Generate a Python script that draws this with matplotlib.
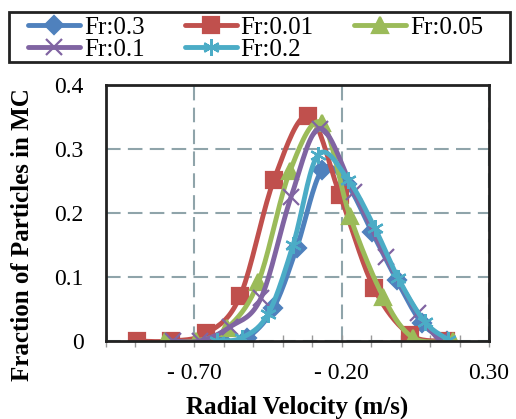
import numpy as np
import matplotlib
matplotlib.use('Agg')
import matplotlib.pyplot as plt
from matplotlib.patches import Rectangle
from matplotlib.ticker import MultipleLocator, FixedLocator

plt.rcParams['font.family'] = ['Liberation Serif', 'DejaVu Serif']

# data (radial velocity m/s, fraction in MC)
labels = ['Fr:0.3', 'Fr:0.01', 'Fr:0.05', 'Fr:0.1', 'Fr:0.2']

x_03 = [-0.606, -0.522, -0.432, -0.353, -0.267, -0.182, -0.097, -0.013, 0.072, 0.157]
y_03 = [0.0, 0.005, 0.051, 0.145, 0.267, 0.245, 0.170, 0.095, 0.028, 0.0]

x_001 = [-0.895, -0.779, -0.659, -0.545, -0.430, -0.313, -0.206, -0.091, 0.031, 0.154]
y_001 = [0.0, 0.0, 0.012, 0.070, 0.252, 0.352, 0.228, 0.083, 0.010, 0.0]

x_005 = [-0.800, -0.695, -0.589, -0.483, -0.376, -0.268, -0.172, -0.059, 0.043, 0.177]
y_005 = [0.0, 0.0, 0.020, 0.092, 0.265, 0.341, 0.195, 0.069, 0.005, 0.0]

x_01 = [-0.773, -0.681, -0.579, -0.474, -0.372, -0.274, -0.158, -0.050, 0.059, 0.133]
y_01 = [0.0, 0.0, 0.022, 0.067, 0.225, 0.332, 0.233, 0.131, 0.043, 0.0]

x_02 = [-0.623, -0.539, -0.450, -0.365, -0.280, -0.178, -0.087, -0.008, 0.082, 0.162]
y_02 = [0.0, 0.005, 0.042, 0.150, 0.291, 0.252, 0.176, 0.098, 0.030, 0.002]

colors = ['#4F81BD', '#C0504D', '#9BBB59', '#8064A2', '#4BACC6']
markers = ['D', 's', '^', 'x', (6, 2, 0)]
msizes = [9, 12, 12, 11, 12]


def smooth(x, y, n=20):
    # excel-like smoothed line (catmull-rom through the points)
    p = np.column_stack([x, y])
    p = np.vstack([p[0], p, p[-1]])
    t = np.linspace(0, 1, n)[:, None]
    out = []
    for i in range(1, len(p) - 2):
        p0, p1, p2, p3 = p[i - 1], p[i], p[i + 1], p[i + 2]
        c1 = p1 + (p2 - p0) / 6
        c2 = p2 - (p3 - p1) / 6
        seg = ((1 - t) ** 3) * p1 + 3 * ((1 - t) ** 2) * t * c1 + 3 * (1 - t) * t ** 2 * c2 + t ** 3 * p2
        out.append(seg)
    out = np.vstack(out)
    return out[:, 0], out[:, 1]


W, H = 516, 419
fig = plt.figure(figsize=(W / 100, H / 100), dpi=100)
ax = fig.add_axes([106 / W, 1 - 341 / H, 383 / W, 256 / H])

series = [(x_03, y_03), (x_001, y_001), (x_005, y_005), (x_01, y_01), (x_02, y_02)]
handles = []
for (xs, ys), c, m, ms, lab in zip(series, colors, markers, msizes, labels):
    sx, sy = smooth(xs, ys)
    ax.plot(sx, sy, color=c, lw=3.5, solid_capstyle='round')
    ax.plot(xs, ys, ls='none', marker=m, color=c, ms=ms, mew=1.6)
    h, = ax.plot([], [], color=c, lw=3.5, marker=m, ms=ms, mew=1.6, solid_capstyle='round')
    handles.append(h)

ax.set_xlim(-1.0, 0.3)
ax.set_ylim(0, 0.4)
ax.xaxis.set_major_locator(FixedLocator([-0.7, -0.2, 0.3]))
ax.xaxis.set_minor_locator(MultipleLocator(0.1))
ax.set_xticklabels(['- 0.70', '- 0.20', '0.30'])
ax.set_yticks([0, 0.1, 0.2, 0.3, 0.4])
ax.set_yticklabels(['0', '0.1', '0.2', '0.3', '0.4'])
ax.tick_params(axis='x', which='both', direction='inout', length=8, width=1, color='#999999',
               labelsize=17, pad=12)
ax.tick_params(axis='y', length=0, labelsize=17, pad=16)
ax.grid(True, which='major', color='#8FA4AA', ls=(0, (7, 3.5)), lw=1.5)
ax.set_axisbelow(True)
for s in ax.spines.values():
    s.set_linewidth(2)
    s.set_color('#222222')

ax.set_xlabel('Radial Velocity (m/s)', fontsize=18, fontweight='bold', labelpad=8)
ax.set_ylabel('Fraction of Particles in MC', fontsize=18, fontweight='bold')
ax.yaxis.set_label_coords(-0.188, 0.414)

# legend box drawn separately, entries placed inside it
fig.patches.append(Rectangle((9 / W, 1 - 62 / H), 501 / W, 50 / H, transform=fig.transFigure,
                             fill=False, lw=2, edgecolor='#222222'))
order = [0, 3, 1, 4, 2]
fig.legend([handles[i] for i in order], [labels[i] for i in order], ncol=3,
           loc='upper left', bbox_to_anchor=(28 / W, 1 - 16 / H),
           fontsize=18, frameon=False, handlelength=2.08, handletextpad=0.16,
           labelspacing=0.0, borderpad=0.0, borderaxespad=0, columnspacing=1.6)

fig.savefig('out.png', dpi=100)
